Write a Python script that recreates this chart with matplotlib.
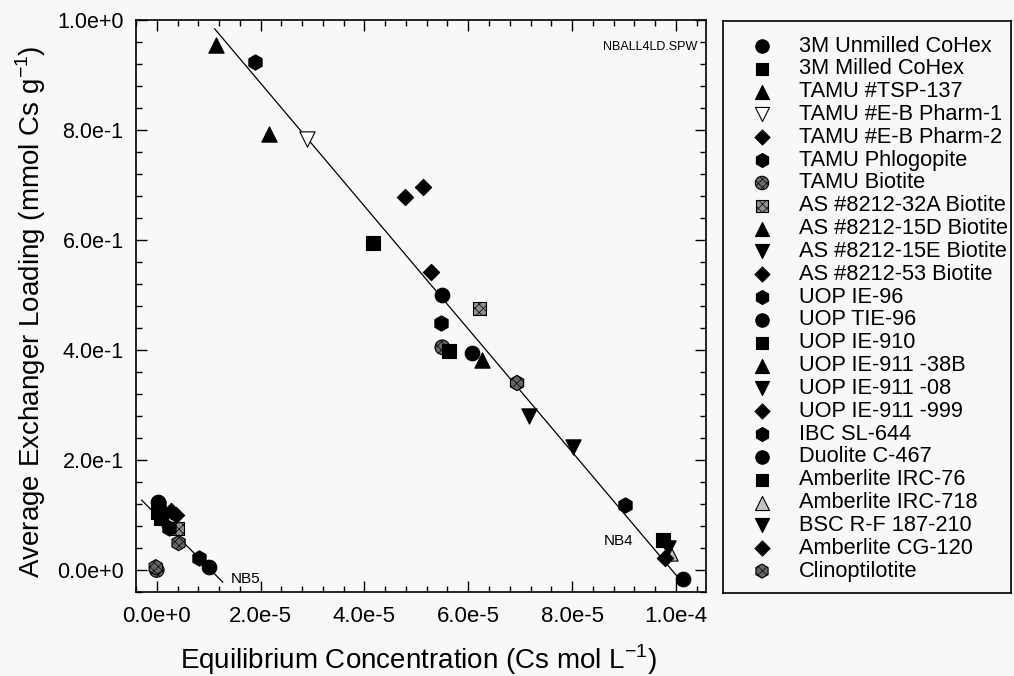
import numpy as np
import matplotlib as mp
mp.use("Agg")
import matplotlib.pyplot as plt

# materials, in legend order
names = [
    "3M Unmilled CoHex", "3M Milled CoHex", "TAMU #TSP-137", "TAMU #E-B Pharm-1",
    "TAMU #E-B Pharm-2", "TAMU Phlogopite", "TAMU Biotite", "AS #8212-32A Biotite",
    "AS #8212-15D Biotite", "AS #8212-15E Biotite", "AS #8212-53 Biotite", "UOP IE-96",
    "UOP TIE-96", "UOP IE-910", "UOP IE-911 -38B", "UOP IE-911 -08",
    "UOP IE-911 -999", "IBC SL-644", "Duolite C-467", "Amberlite IRC-76",
    "Amberlite IRC-718", "BSC R-F 187-210", "Amberlite CG-120", "Clinoptilotite",
]

# equilibrium Cs concentration (mol/L), one list per material
conc = [
    [5.50e-5, 0.02e-5], [4.17e-5, 0.02e-5], [1.15e-5], [2.90e-5],
    [4.79e-5, 0.27e-5], [1.90e-5, 0.04e-5], [5.50e-5, 0.00e-5], [6.21e-5, 0.40e-5],
    [2.17e-5], [7.17e-5], [5.12e-5, 0.38e-5], [5.48e-5, 0.23e-5],
    [6.08e-5], [5.63e-5, 0.08e-5], [6.27e-5], [8.02e-5, 0.12e-5],
    [5.29e-5], [9.02e-5, 0.81e-5], [10.13e-5, 1.00e-5], [9.75e-5],
    [9.88e-5], [9.84e-5], [9.79e-5], [6.94e-5, 0.42e-5, -0.02e-5],
]

# average exchanger loading (mmol Cs/g)
loading = [
    [0.500, 0.124], [0.595, 0.105], [0.955], [0.784],
    [0.678, 0.107], [0.924, 0.118], [0.405, 0.000], [0.475, 0.076],
    [0.793], [0.280], [0.696, 0.100], [0.449, 0.076],
    [0.395], [0.398, 0.095], [0.382], [0.224, 0.090],
    [0.542], [0.118, 0.022], [-0.016, 0.005], [0.055],
    [0.031], [0.040], [0.022], [0.340, 0.049, 0.005],
]

# fitted lines (end points)
fit_all_x = [1.115e-5, 1.01e-4]
fit_all_y = [0.984, -0.020]
fit_nb5_x = [-0.29e-5, 1.27e-5]
fit_nb5_y = [0.127, -0.022]

x_ticks = [0, 2e-5, 4e-5, 6e-5, 8e-5, 1e-4]
x_tick_labels = ["0.0e+0", "2.0e-5", "4.0e-5", "6.0e-5", "8.0e-5", "1.0e-4"]
y_ticks = [0, 0.2, 0.4, 0.6, 0.8, 1.0]
y_tick_labels = ["0.0e+0", "2.0e-1", "4.0e-1", "6.0e-1", "8.0e-1", "1.0e+0"]

markers = ["o", "s", "^", "v", "D", "h"] * 4
faces = ["black"] * 24
faces[3] = "white"
faces[6] = "#6a6a6a"
faces[7] = "#8e8e8e"
faces[20] = "#c4c4c4"
faces[23] = "#666666"
hatched = {6, 7, 23}
msize = {"o": 10.5, "s": 9.5, "^": 11, "v": 11, "D": 8.3, "h": 11}

plt.rcParams["font.family"] = ["Liberation Sans", "DejaVu Sans"]
plt.rcParams["mathtext.fontset"] = "custom"
plt.rcParams["mathtext.rm"] = "Liberation Sans"
plt.rcParams["hatch.linewidth"] = 0.5
bg = "#f8f8f8"

fig = plt.figure(figsize=(10.14, 6.76), dpi=100, facecolor=bg)
W, H = 1014, 676
ax = fig.add_axes([136 / W, 1 - 592 / H, 570 / W, 572 / H], facecolor=bg)
lax = fig.add_axes([723 / W, 1 - 593 / H, 288 / W, 572 / H], facecolor=bg)

ax.plot(fit_all_x, fit_all_y, color="black", lw=0.9, zorder=2)
ax.plot(fit_nb5_x, fit_nb5_y, color="black", lw=0.9, zorder=2)

for i in range(len(names)):
    m = markers[i]
    ax.scatter(conc[i], loading[i], marker=m, s=msize[m] ** 2, c=faces[i],
               edgecolors="black", linewidths=0.8, zorder=3,
               hatch="xxxx" if i in hatched else None)

ax.set_xlim(-3.8e-6, 1.058e-4)
ax.set_ylim(-0.04, 1.0)
ax.set_xticks(x_ticks)
ax.set_xticklabels(x_tick_labels, fontsize=16)
ax.set_yticks(y_ticks)
ax.set_yticklabels(y_tick_labels, fontsize=15.5)
ax.set_xticks(np.arange(-4e-6, 1.06e-4, 4e-6), minor=True)
ax.set_yticks(np.arange(-0.04, 1.0, 0.04), minor=True)
ax.tick_params(which="both", direction="in", top=True, right=True, width=1)
ax.tick_params(which="major", length=8)
ax.tick_params(which="minor", length=4.5)
ax.tick_params(axis="x", pad=10)
ax.tick_params(axis="y", pad=9)
for s in ax.spines.values():
    s.set_linewidth(1.2)

ax.set_xlabel(r"Equilibrium Concentration (Cs mol L$^{\mathregular{-1}}$)", fontsize=20)
ax.set_ylabel(r"Average Exchanger Loading (mmol Cs g$^{\mathregular{-1}}$)", fontsize=20)
ax.xaxis.set_label_coords(0.495, -0.088)
ax.yaxis.set_label_coords(-0.155, 0.49)

ax.text(9.5e-5, 0.951, "NBALL4LD.SPW", fontsize=9, ha="center", va="center")
ax.text(1.71e-5, -0.016, "NB5", fontsize=11, ha="center", va="center")
ax.text(8.9e-5, 0.053, "NB4", fontsize=11, ha="center", va="center")

# legend panel
lax.set_xlim(0, 288)
lax.set_ylim(572, 0)
lax.set_xticks([])
lax.set_yticks([])
for s in lax.spines.values():
    s.set_linewidth(1.2)
for i, name in enumerate(names):
    yy = 25 + i * 22.83
    m = markers[i]
    lax.scatter([39], [yy], marker=m, s=(msize[m] * 0.92) ** 2, c=faces[i],
                edgecolors="black", linewidths=0.8,
                hatch="xxxx" if i in hatched else None)
    lax.text(76, yy, name, fontsize=15.7, va="center", ha="left")

fig.savefig("out.png", dpi=100, facecolor=bg)
plt.close()
